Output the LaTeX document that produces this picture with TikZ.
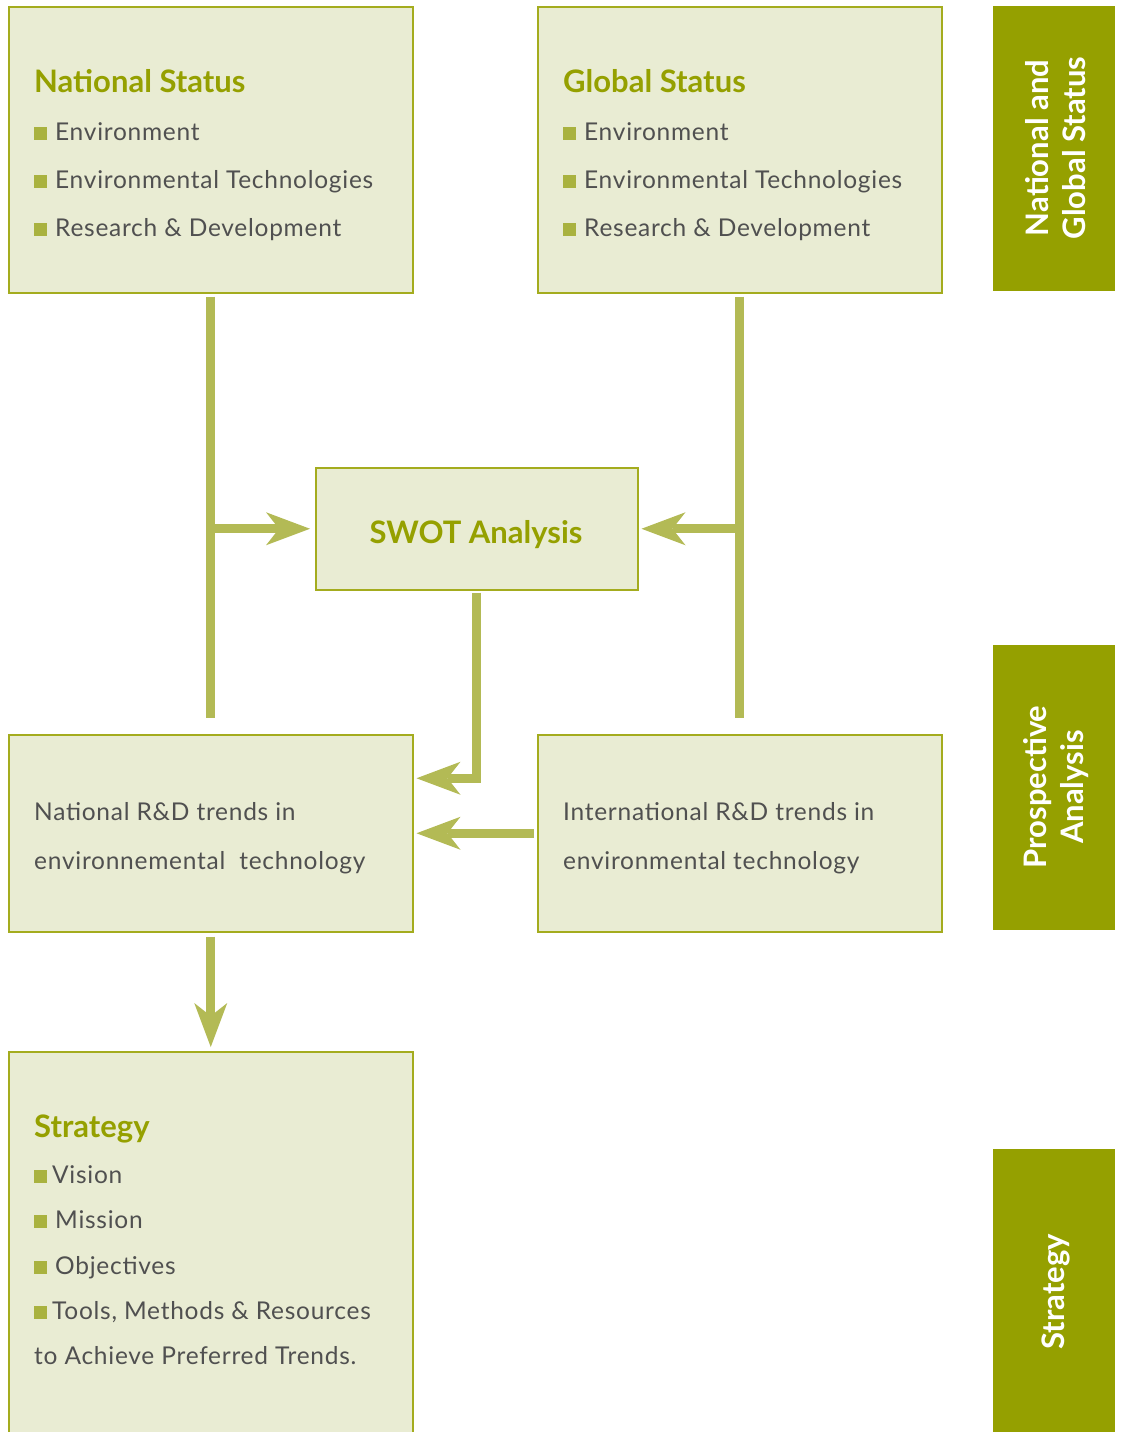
\documentclass[tikz,border=0pt]{standalone}
\usepackage{fontspec}
\setmainfont{Lato}
\newfontfamily\bodyfont[LetterSpace=3]{Lato}
\usetikzlibrary{arrows.meta,calc}

\definecolor{boxfill}{HTML}{E9ECD3}
\definecolor{boxline}{HTML}{A4AC1E}
\definecolor{olive}{HTML}{95A000}
\definecolor{connector}{HTML}{B3BA55}
\definecolor{bulletsq}{HTML}{A9B23F}
\definecolor{bodytext}{HTML}{505050}

% small olive square used as list bullet
\newcommand\sqbullet{{\color{bulletsq}\rule{13pt}{13pt}}\hspace{8pt}}

\tikzset{
  panel/.style={draw=boxline, line width=1.5pt, fill=boxfill, rectangle,
                inner sep=0pt, anchor=north west},
  sidebar/.style={fill=olive, rectangle, inner sep=0pt, anchor=north west,
                  minimum width=122pt},
  sidelabel/.style={text=white, rotate=90, align=center,
                    font=\fontsize{31}{37}\selectfont\bfseries},
  heading/.style={text=olive, anchor=base west, inner sep=0pt,
                  font=\fontsize{31}{36}\selectfont\bfseries},
  item/.style={text=bodytext, anchor=base west, inner sep=0pt,
               font=\bodyfont\fontsize{24.5}{28}\selectfont},
  conn/.style={draw=connector, line width=9pt},
  flow/.style={conn, -{Stealth[length=44pt 0 0, width=33pt 0 0, inset=13pt 0 0, line width=0pt]}}
}

\begin{document}
\begin{tikzpicture}[x=1pt, y=-1pt]
\useasboundingbox (0,0) rectangle (1120,1432);

% ---- boxes ----
\node[panel, minimum width=404pt, minimum height=286pt] (nat)  at (8,6) {};
\node[panel, minimum width=404pt, minimum height=286pt] (glob) at (537,6) {};
\node[panel, minimum width=322pt, minimum height=122pt] (swot) at (315,467) {};
\node[panel, minimum width=404pt, minimum height=197pt] (natrd) at (8,734) {};
\node[panel, minimum width=404pt, minimum height=197pt] (intrd) at (537,734) {};
\node[panel, minimum width=404pt, minimum height=400pt] (strat) at (8,1051) {};

% ---- side bars ----
\node[sidebar, minimum height=285pt] (bar1) at (993,6) {};
\node[sidebar, minimum height=285pt] (bar2) at (993,645) {};
\node[sidebar, minimum height=300pt] (bar3) at (993,1149) {};
\node[sidelabel] (lab1) at (1056,148) {National and\\Global Status};
\node[sidelabel] (lab2) at (1056,787) {Prospective\\Analysis};
\node[sidelabel] (lab3) at (1056,1292) {Strategy};

% ---- box texts ----
\node[heading] (natT) at (34,92) {National Status};
\node[item] (nat1) at (34,140) {\sqbullet Environment};
\node[item] (nat2) at (34,188) {\sqbullet Environmental Technologies};
\node[item] (nat3) at (34,236) {\sqbullet Research \& Development};

\node[heading] (globT) at (563,92) {Global Status};
\node[item] (glob1) at (563,140) {\sqbullet Environment};
\node[item] (glob2) at (563,188) {\sqbullet Environmental Technologies};
\node[item] (glob3) at (563,236) {\sqbullet Research \& Development};

\node[heading, anchor=base] (swotT) at (476,543) {SWOT Analysis};

\node[item] (natrd1) at (34,820) {National R\&D trends in};
\node[item] (natrd2) at (34,869) {environnemental\ \ technology};
\node[item] (intrd1) at (563,820) {International R\&D trends in};
\node[item] (intrd2) at (563,869) {environmental technology};

\node[heading] (stratT) at (34,1137) {Strategy};
\node[item] (strat1) at (34,1183) {{\color{bulletsq}\rule{13pt}{13pt}}\hspace{5pt}Vision};
\node[item] (strat2) at (34,1228) {\sqbullet Mission};
\node[item] (strat3) at (34,1274) {\sqbullet Objectives};
\node[item] (strat4) at (34,1319) {{\color{bulletsq}\rule{13pt}{13pt}}\hspace{5pt}Tools, Methods \& Resources};
\node[item] (strat5) at (34,1364) {to Achieve Preferred Trends.};

% ---- connectors ----
\coordinate (ltrunk) at (nat.south |- 0,718);
\coordinate (rtrunk) at (glob.south |- 0,718);
\draw[conn, shorten <=3pt] (nat.south) -- (ltrunk);
\draw[conn, shorten <=3pt] (glob.south) -- (rtrunk);
\draw[flow, shorten >=5pt] (nat.south |- swot.west) -- (swot.west);
\draw[flow, shorten >=3pt] (glob.south |- swot.east) -- (swot.east);
\draw[flow, shorten <=2pt, shorten >=3pt]
  (swot.south) |- ($(natrd.east)+(0,-55)$);
\draw[flow, shorten <=3pt, shorten >=3pt] (intrd.west) -- (natrd.east);
\draw[flow, shorten <=4pt, shorten >=4pt] (natrd.south) -- (strat.north);
\end{tikzpicture}
\end{document}
